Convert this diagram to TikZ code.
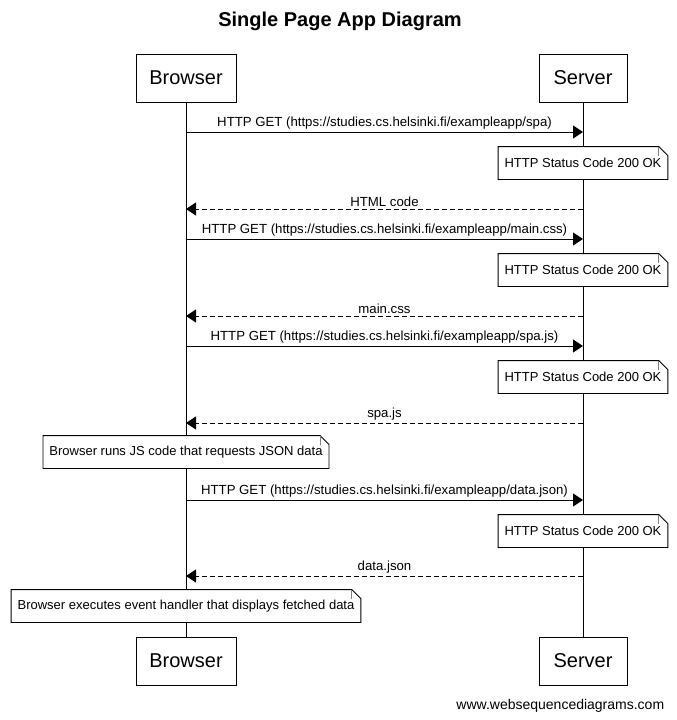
\documentclass[tikz,border=0pt]{standalone}
\usepackage{fontspec}
\setmainfont{Liberation Sans}
\usepackage{tikz}
\usetikzlibrary{arrows.meta}

\tikzset{
	actor/.style={draw, fill=white, minimum width=100pt, minimum height=48pt, font=\fontsize{20}{24}\selectfont},
	call/.style={-{Triangle[length=10pt,width=13pt]}},
	reply/.style={call, dash pattern=on 5pt off 3pt},
	msglabel/.style={above, inner sep=2pt, font=\fontsize{13.2}{15}\selectfont},
	note/.style={fill=white, inner xsep=6pt, minimum height=32pt, font=\fontsize{13}{15}\selectfont}
}

\begin{document}
\begin{tikzpicture}[x=1pt, y=-1pt, line width=0.9pt]
	\useasboundingbox (0,0) rectangle (677,720);

	\node[font=\bfseries\fontsize{20}{24}\selectfont] (title) at (340,21) {Single Page App Diagram};

	\node[actor] (browser) at (186,78) {Browser};
	\node[actor, minimum width=88pt] (server) at (583,78) {Server};
	\node[actor] (browserB) at (186,661) {Browser};
	\node[actor, minimum width=88pt] (serverB) at (583,661) {Server};

	% lifelines
	\draw (browser) -- (browserB);
	\draw (server) -- (serverB);

	% requests
	\foreach \i/\y/\f in {1/132/spa, 3/239/main.css, 5/346/spa.js, 7/500/data.json}{
		\coordinate (b\i) at (186,\y);
		\coordinate (s\i) at (583,\y);
		\draw[call] (b\i) -- node[msglabel] {HTTP GET (https://studies.cs.helsinki.fi/exampleapp/\f)} (s\i);
	}

	% responses
	\foreach \i/\y/\txt in {2/209/HTML code, 4/316/main.css, 6/423/spa.js, 8/576/data.json}{
		\coordinate (b\i) at (186,\y);
		\coordinate (s\i) at (583,\y);
		\draw[reply] (s\i) -- node[msglabel] {\txt} (b\i);
	}

	% notes
	\foreach \n/\y in {n1/163, n2/270, n3/377, n5/531}
		\node[note] (\n) at (583,\y) {HTTP Status Code 200 OK};
	\node[note] (n4) at (186,452) {Browser runs JS code that requests JSON data};
	\node[note] (n6) at (186,606) {Browser executes event handler that displays fetched data};

	\foreach \n in {n1,n2,n3,n4,n5,n6}{
		\draw (\n.south west) -- (\n.north west) -- ([xshift=-9pt]\n.north east)
			-- ([yshift=-9pt]\n.north east) -- (\n.south east) -- cycle;
		\draw[gray] ([xshift=-9pt]\n.north east) -- ([xshift=-9pt,yshift=-9pt]\n.north east);
	}

	\node[anchor=east, font=\fontsize{14}{16}\selectfont] (wsd) at (668,706) {www.websequencediagrams.com};
\end{tikzpicture}
\end{document}
